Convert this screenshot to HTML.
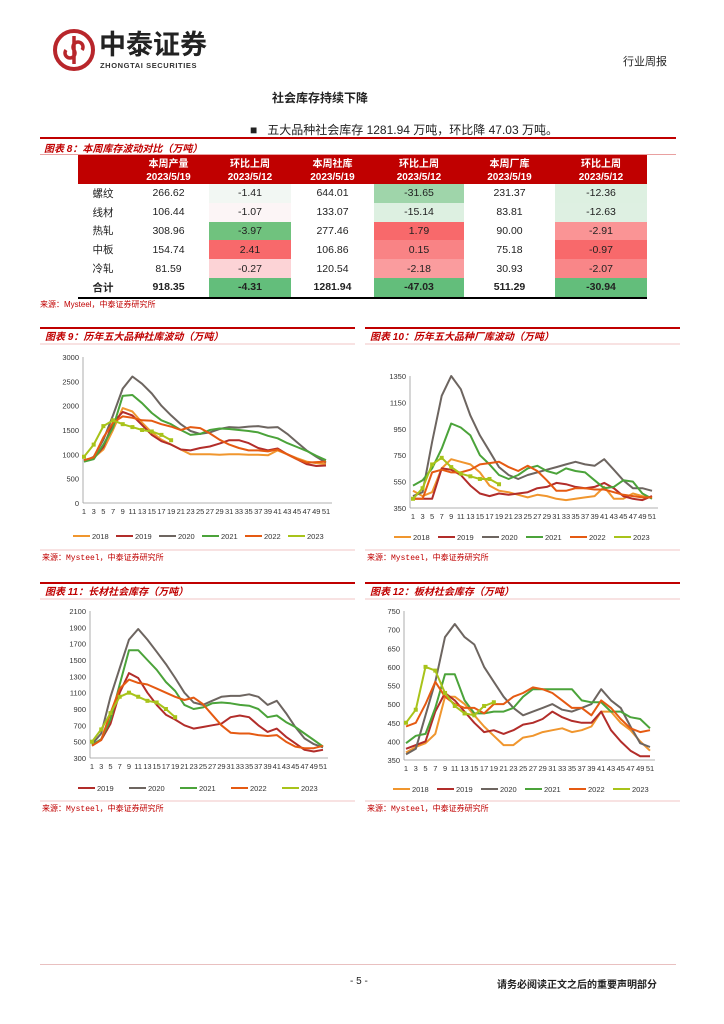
<!DOCTYPE html>
<html><head><meta charset="utf-8">
<style>
body{margin:0;background:#fff;}
#page{position:relative;width:724px;height:1024px;overflow:hidden;background:#fff;font-family:"Liberation Sans","Noto Sans CJK SC",sans-serif;}
.abs{position:absolute;white-space:nowrap;}
table{position:absolute;left:78px;top:155px;border-collapse:collapse;font-size:10.5px;font-family:"Liberation Sans","Noto Sans CJK SC",sans-serif;}
td{text-align:center;padding:0;height:18.8px;color:#222;}
th{background:#C00000;color:#fff;font-weight:bold;font-size:10px;height:14px;padding:0;}
.tot td{font-weight:bold;border-bottom:2px solid #000;}
</style></head><body>
<div id="page">
  <svg class="abs" style="left:52px;top:28px" width="44" height="44">
    <circle cx="22" cy="22" r="19" fill="none" stroke="#B8262B" stroke-width="4"/>
    <path d="M22 8 V36 M14 22 a5 5 0 1 0 8 0 a5 5 0 1 1 8 0" fill="none" stroke="#B8262B" stroke-width="3.5"/>
  </svg>
  <div class="abs" style="left:99px;top:30px;font-size:27px;line-height:30px;font-weight:bold;color:#222">中泰证券</div>
  <div class="abs" style="left:100px;top:61px;font-size:7.5px;line-height:9px;font-weight:bold;color:#333;letter-spacing:0.6px">ZHONGTAI SECURITIES</div>
  <div class="abs" style="left:623px;top:53px;font-size:11px;color:#222">行业周报</div>
  <div class="abs" style="left:272px;top:89px;font-size:12px;font-weight:bold;color:#222">社会库存持续下降</div>
  <div class="abs" style="left:250px;top:121px;font-size:12px;color:#222">■&nbsp;&nbsp;&nbsp;五大品种社会库存 1281.94 万吨，环比降 47.03 万吨。</div>
  <div class="abs" style="left:40px;top:137px;width:636px;height:2px;background:#C00000"></div>
  <div class="abs" style="left:44px;top:140px;font-size:10px;font-style:italic;font-weight:bold;color:#C00000">图表 8：本周库存波动对比（万吨）</div>
  <div class="abs" style="left:40px;top:154px;width:636px;height:1px;background:#E9A0A0"></div>
  <table>
    <tr><th style="width:50px"></th><th style="width:81px">本周产量</th><th style="width:82px">环比上周</th><th style="width:83px">本周社库</th><th style="width:90px">环比上周</th><th style="width:91px">本周厂库</th><th style="width:92px">环比上周</th></tr>
    <tr><th></th><th>2023/5/19</th><th>2023/5/12</th><th>2023/5/19</th><th>2023/5/12</th><th>2023/5/19</th><th>2023/5/12</th></tr>
    <tr><td>螺纹</td><td>266.62</td><td style="background:#F2F7F3">-1.41</td><td>644.01</td><td style="background:#9FD5AA">-31.65</td><td>231.37</td><td style="background:#DDF0E1">-12.36</td></tr>
    <tr><td>线材</td><td>106.44</td><td style="background:#FCF5F6">-1.07</td><td>133.07</td><td style="background:#DDF0E1">-15.14</td><td>83.81</td><td style="background:#DEF0E2">-12.63</td></tr>
    <tr><td>热轧</td><td>308.96</td><td style="background:#70C27E">-3.97</td><td>277.46</td><td style="background:#F8696B">1.79</td><td>90.00</td><td style="background:#FA9495">-2.91</td></tr>
    <tr><td>中板</td><td>154.74</td><td style="background:#F8696B">2.41</td><td>106.86</td><td style="background:#F98385">0.15</td><td>75.18</td><td style="background:#F8696B">-0.97</td></tr>
    <tr><td>冷轧</td><td>81.59</td><td style="background:#FCD3D6">-0.27</td><td>120.54</td><td style="background:#FA9C9E">-2.18</td><td>30.93</td><td style="background:#F98688">-2.07</td></tr>
    <tr class="tot"><td>合计</td><td>918.35</td><td style="background:#63BE7B">-4.31</td><td>1281.94</td><td style="background:#63BE7B">-47.03</td><td>511.29</td><td style="background:#63BE7B">-30.94</td></tr>
  </table>
  <div class="abs" style="left:40px;top:299px;font-size:8px;color:#C00000">来源：Mysteel，中泰证券研究所</div>
  <div class="abs" style="left:40px;top:964px;width:636px;height:1px;background:#E9C0C0"></div>
  <div class="abs" style="left:350px;top:976px;font-size:10px;color:#222">- 5 -</div>
  <div class="abs" style="left:497px;top:976px;font-size:10px;font-weight:bold;color:#222">请务必阅读正文之后的重要声明部分</div>
  <svg id="charts" class="abs" style="left:0;top:0" width="724" height="1024"></svg>
</div>
<script>
const weeks = [1,3,5,7,9,11,13,15,17,19,21,23,25,27,29,31,33,35,37,39,41,43,45,47,49,51];
const weeks2023 = [1,3,5,7,9,11,13,15,17,19];
const years6 = ["2018","2019","2020","2021","2022","2023"];
const years5 = ["2019","2020","2021","2022","2023"];
const xTicks = [1,3,5,7,9,11,13,15,17,19,21,23,25,27,29,31,33,35,37,39,41,43,45,47,49,51];
// 图表9 五大品种社库
const c9Ticks = [0,500,1000,1500,2000,2500,3000];
const c9_2018 = [880,930,1100,1500,1950,1880,1650,1450,1300,1200,1100,1000,1000,1000,990,1000,1000,990,990,980,1080,1000,920,850,820,800];
const c9_2019 = [880,920,1150,1650,1870,1800,1600,1400,1270,1200,1100,1080,1130,1160,1220,1290,1290,1230,1130,1080,1120,1000,900,800,760,770];
const c9_2020 = [850,950,1300,1800,2350,2600,2450,2250,2000,1800,1620,1480,1420,1450,1520,1560,1550,1570,1580,1550,1560,1420,1250,1080,950,830];
const c9_2021 = [850,900,1200,1550,2200,2220,2050,1850,1700,1620,1500,1400,1420,1500,1530,1520,1500,1480,1450,1380,1330,1230,1150,1070,970,880];
const c9_2022 = [880,940,1350,1650,1780,1750,1700,1690,1620,1570,1500,1560,1540,1430,1300,1200,1130,1080,1080,1060,1100,1000,900,830,840,850];
const c9_2023 = [950,1200,1580,1700,1620,1560,1500,1470,1400,1290];
// 图表10 五大品种厂库
const c10Ticks = [350,550,750,950,1150,1350];
const c10_2018 = [480,440,470,650,720,700,680,620,520,480,470,450,430,450,440,420,410,420,430,440,510,420,420,460,440,430];
const c10_2019 = [420,420,420,650,640,600,520,460,440,460,450,460,470,500,510,540,530,510,500,510,540,500,440,420,410,440];
const c10_2020 = [440,470,850,1200,1350,1250,1050,900,780,660,600,570,600,620,640,660,680,700,680,670,720,640,560,500,500,480];
const c10_2021 = [520,560,650,800,990,960,900,750,680,600,570,600,650,670,630,610,650,630,620,560,500,510,560,550,460,420];
const c10_2022 = [420,420,620,640,620,620,640,680,690,700,660,630,670,630,560,480,480,500,500,490,490,470,450,440,430,430];
const c10_2023 = [420,500,680,730,660,610,590,570,570,530];
// 图表11 长材社库
const c11Ticks = [300,500,700,900,1100,1300,1500,1700,1900,2100];
const c11_2019 = [460,520,720,1100,1340,1280,1100,950,830,770,700,660,680,700,720,800,820,800,700,620,660,560,480,400,380,400];
const c11_2020 = [470,600,1050,1400,1750,1880,1750,1600,1450,1280,1100,980,950,1000,1050,1060,1060,1080,1050,950,1000,850,680,540,470,430];
const c11_2021 = [460,530,770,1200,1620,1620,1500,1380,1230,1120,950,900,920,970,980,970,950,940,900,800,820,740,680,600,520,440];
const c11_2022 = [450,520,850,1150,1260,1220,1200,1150,1100,1050,1010,1040,960,830,700,610,600,600,580,570,580,500,440,420,420,450];
const c11_2023 = [500,650,850,1050,1100,1050,1000,980,900,800];
// 图表12 板材社库
const c12Ticks = [350,400,450,500,550,600,650,700,750];
const c12_2018 = [370,385,395,420,520,520,500,470,440,415,390,390,410,415,425,430,435,425,430,440,480,480,450,430,400,375];
const c12_2019 = [380,390,400,480,530,510,480,450,425,430,420,430,445,450,460,480,465,455,450,450,480,430,400,375,360,360];
const c12_2020 = [365,380,470,560,680,715,680,660,600,560,520,490,470,480,490,500,485,480,490,500,540,510,490,440,395,385];
const c12_2021 = [395,415,420,490,580,580,510,475,475,480,480,490,520,540,540,540,540,540,510,505,505,480,480,465,460,435];
const c12_2022 = [440,450,500,560,520,500,490,490,475,500,500,520,530,545,540,530,510,490,490,470,510,490,460,435,425,430];
const c12_2023 = [450,485,600,590,530,495,475,470,495,505];

const colors = {"2018":"#F0962E","2019":"#B22D2A","2020":"#6D6560","2021":"#4BA33A","2022":"#E55A12","2023":"#A8C31A"};
const NS = "http://www.w3.org/2000/svg";
const svg = document.getElementById('charts');
function mk(tag, attrs, parent){const e=document.createElementNS(NS,tag);for(const k in attrs)e.setAttribute(k,attrs[k]);(parent||svg).appendChild(e);return e;}

function chart(cfg){
  const g = mk('g',{});
  
  
  const L=cfg.left;
  const tr = mk('rect',{x:L,y:cfg.top,width:315,height:2,fill:'#C00000'},g);
  
  
  const tt = mk('text',{x:L+5,y:cfg.top+13,'font-size':10,'font-style':'italic','font-weight':'bold',fill:'#C00000','font-family':'"Liberation Sans","Noto Sans CJK SC",sans-serif'},g);
  tt.textContent = cfg.title;
  
  
  mk('line',{x1:L,x2:L+315,y1:cfg.top+17,y2:cfg.top+17,stroke:'#EDB0B0','stroke-width':0.8},g);
  mk('line',{x1:L,x2:L+315,y1:cfg.srcY-7,y2:cfg.srcY-7,stroke:'#EDB0B0','stroke-width':0.8},g);
  const src = mk('text',{x:L+2,y:cfg.srcY+3,'font-size':8,fill:'#C00000','font-family':'"Liberation Mono","Noto Sans CJK SC",monospace'},g);
  src.textContent = '来源：Mysteel，中泰证券研究所';
  
  
  const ymin=cfg.ticks[0], ymax=cfg.ticks[cfg.ticks.length-1];
  const sx = w => cfg.x1 + (w-1)*(cfg.x51-cfg.x1)/50;
  const sy = v => cfg.yb - (v-ymin)*(cfg.yb-cfg.yt)/(ymax-ymin);
  mk('line',{x1:cfg.ax,x2:cfg.ax,y1:cfg.yt,y2:cfg.yb,stroke:'#999','stroke-width':0.8},g);
  mk('line',{x1:cfg.ax,x2:cfg.right,y1:cfg.yb,y2:cfg.yb,stroke:'#999','stroke-width':0.8},g);
  cfg.ticks.forEach(t=>{
    const tl = mk('text',{x:cfg.ax-4,y:sy(t)+3,'font-size':7.5,'text-anchor':'end',fill:'#333'},g);
    tl.textContent = t;
    
    
  });
  xTicks.forEach(w=>{
    const xl = mk('text',{x:sx(w),y:cfg.yb+11,'font-size':7.5,'text-anchor':'middle',fill:'#333'},g);
    xl.textContent = w;
    
    
  });
  cfg.series.forEach((s,i)=>{
    const xs = s.year==='2023'?weeks2023:weeks;
    const pts = s.vals.map((v,j)=>sx(xs[j]).toFixed(1)+','+sy(v).toFixed(1)).join(' ');
    const pl = mk('polyline',{points:pts,fill:'none',stroke:colors[s.year],'stroke-width':2,'stroke-linejoin':'round'},g);
    
    
    if(s.year==='2023'){
      s.vals.forEach((v,j)=>{
        const m = mk('rect',{x:sx(xs[j])-2,y:sy(v)-2,width:4,height:4,fill:colors[s.year]},g);
        
        
      });
    }
    const lx = cfg.legX + i*cfg.legS;
    const ll = mk('line',{x1:lx,x2:lx+17,y1:cfg.legY,y2:cfg.legY,stroke:colors[s.year],'stroke-width':2},g);
    
    
    const lt = mk('text',{x:lx+19,y:cfg.legY+3,'font-size':7.5,fill:'#333'},g);
    lt.textContent = s.year;
    
    
  });
}
chart({name:'chart-9-social-inventory',title:'图表 9：历年五大品种社库波动（万吨）',left:40,top:327,srcY:557,ax:83,x1:84,x51:326,right:332,yt:357,yb:503,ticks:c9Ticks,legX:73,legS:43,legY:536,
  series:[{year:'2018',vals:c9_2018},{year:'2019',vals:c9_2019},{year:'2020',vals:c9_2020},{year:'2021',vals:c9_2021},{year:'2022',vals:c9_2022},{year:'2023',vals:c9_2023}]});
chart({name:'chart-10-factory-inventory',title:'图表 10：历年五大品种厂库波动（万吨）',left:365,top:327,srcY:557,ax:410,x1:413,x51:652,right:658,yt:376,yb:508,ticks:c10Ticks,legX:394,legS:44,legY:537,
  series:[{year:'2018',vals:c10_2018},{year:'2019',vals:c10_2019},{year:'2020',vals:c10_2020},{year:'2021',vals:c10_2021},{year:'2022',vals:c10_2022},{year:'2023',vals:c10_2023}]});
chart({name:'chart-11-long-products',title:'图表 11：长材社会库存（万吨）',left:40,top:582,srcY:808,ax:90,x1:92,x51:323,right:328,yt:611,yb:758,ticks:c11Ticks,legX:78,legS:51,legY:788,
  series:[{year:'2019',vals:c11_2019},{year:'2020',vals:c11_2020},{year:'2021',vals:c11_2021},{year:'2022',vals:c11_2022},{year:'2023',vals:c11_2023}]});
chart({name:'chart-12-flat-products',title:'图表 12：板材社会库存（万吨）',left:365,top:582,srcY:808,ax:404,x1:406,x51:650,right:655,yt:611,yb:760,ticks:c12Ticks,legX:393,legS:44,legY:789,
  series:[{year:'2018',vals:c12_2018},{year:'2019',vals:c12_2019},{year:'2020',vals:c12_2020},{year:'2021',vals:c12_2021},{year:'2022',vals:c12_2022},{year:'2023',vals:c12_2023}]});
</script>
</body></html>
